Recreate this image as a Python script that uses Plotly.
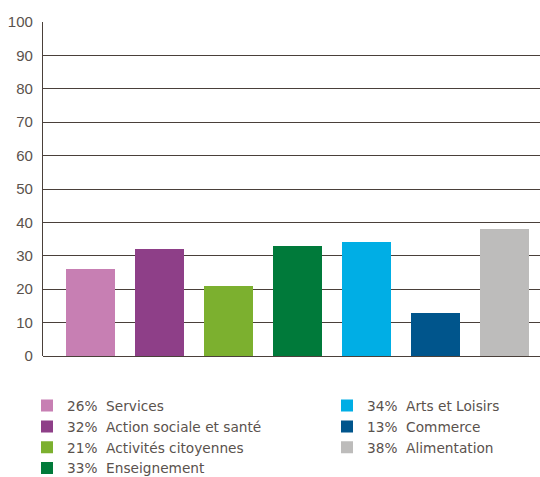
import plotly.graph_objects as go

# Secteurs d'activité et part correspondante (%)
categories = ["Services", "Action sociale et santé", "Activités citoyennes", "Enseignement",
              "Arts et Loisirs", "Commerce", "Alimentation"]
values = [26, 32, 21, 33, 34, 13, 38]
colors = ["#c77fb3", "#8e3f88", "#7cb02f", "#007a3a", "#00aee5", "#00558c", "#bdbcbb"]
y_ticks = [0, 10, 20, 30, 40, 50, 60, 70, 80, 90, 100]

GRID = "#4a403a"
TEXT = "#5a524d"
FONT = "Liberation Sans, Arial, sans-serif"
LEGEND_FONT = "DejaVu Sans, sans-serif"

fig = go.Figure()
for i, (cat, val, col) in enumerate(zip(categories, values, colors)):
    fig.add_trace(go.Bar(
        x=[i], y=[val], name=f"{val}%&nbsp; {cat}",
        marker=dict(color=col, line=dict(width=0)),
        width=0.71,
        legend="legend" if i < 4 else "legend2",
        legendgroup=f"g{i}",
    ))

legend_common = dict(
    orientation="v", font=dict(family=LEGEND_FONT, size=13.7, color=TEXT),
    bgcolor="rgba(0,0,0,0)", tracegroupgap=0, itemclick=False,
    xanchor="left", yanchor="top", traceorder="normal",
    xref="container", yref="container", y=0.182,
)

fig.update_layout(
    width=540, height=477,
    margin=dict(l=43, r=0, t=22, b=121, autoexpand=False),
    paper_bgcolor="white", plot_bgcolor="white",
    bargap=0,
    xaxis=dict(range=[-0.688, 6.514], showticklabels=False, showgrid=False,
               zeroline=False, showline=False, fixedrange=True),
    yaxis=dict(range=[0, 100], tickvals=y_ticks, showgrid=True, gridcolor=GRID,
               gridwidth=1.3, zeroline=True, zerolinecolor=GRID, zerolinewidth=1.3,
               showline=True, linecolor=GRID, linewidth=1.3,
               tickfont=dict(family=FONT, size=15, color=TEXT),
               ticks="", ticklabelstandoff=6),
    legend=dict(x=27 / 540, **legend_common),
    legend2=dict(x=327 / 540, **legend_common),
    showlegend=True,
)

fig.write_html("out.html")
